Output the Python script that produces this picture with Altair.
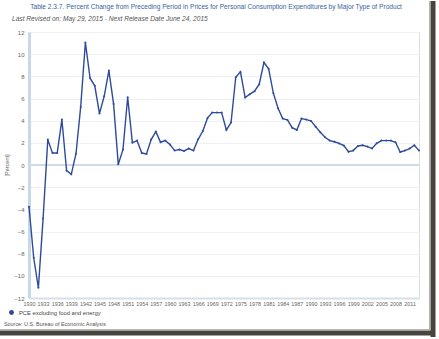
import altair as alt
import pandas as pd

# ---- data ----
years = [1930, 1931, 1932, 1933, 1934, 1935, 1936, 1937, 1938, 1939,
         1940, 1941, 1942, 1943, 1944, 1945, 1946, 1947, 1948, 1949,
         1950, 1951, 1952, 1953, 1954, 1955, 1956, 1957, 1958, 1959,
         1960, 1961, 1962, 1963, 1964, 1965, 1966, 1967, 1968, 1969,
         1970, 1971, 1972, 1973, 1974, 1975, 1976, 1977, 1978, 1979,
         1980, 1981, 1982, 1983, 1984, 1985, 1986, 1987, 1988, 1989,
         1990, 1991, 1992, 1993, 1994, 1995, 1996, 1997, 1998, 1999,
         2000, 2001, 2002, 2003, 2004, 2005, 2006, 2007, 2008, 2009,
         2010, 2011, 2012, 2013]
pce_core = [-3.77, -8.37, -11.08, -4.82, 2.29, 1.08, 1.08, 4.10, -0.51, -0.84,
            1.02, 5.24, 11.05, 7.83, 7.14, 4.64, 6.20, 8.52, 5.51, 0.06,
            1.39, 6.11, 2.02, 2.20, 1.08, 0.99, 2.29, 3.01, 2.05, 2.20,
            1.85, 1.30, 1.39, 1.27, 1.48, 1.30, 2.32, 3.07, 4.25, 4.73,
            4.73, 4.73, 3.16, 3.83, 7.92, 8.40, 6.08, 6.39, 6.66, 7.29,
            9.25, 8.67, 6.48, 5.12, 4.19, 4.07, 3.37, 3.16, 4.19, 4.10,
            3.98, 3.46, 2.95, 2.50, 2.20, 2.10, 1.95, 1.75, 1.20, 1.30,
            1.72, 1.78, 1.66, 1.50, 1.96, 2.20, 2.20, 2.20, 2.05, 1.17,
            1.30, 1.48, 1.78, 1.30]
series_name = "PCE excluding food and energy"
x_tick_labels = [1930, 1933, 1936, 1939, 1942, 1945, 1948, 1951, 1954, 1957,
                 1960, 1963, 1966, 1969, 1972, 1975, 1978, 1981, 1984, 1987,
                 1990, 1993, 1996, 1999, 2002, 2005, 2008, 2011]
y_tick_labels = [-12, -10, -8, -6, -4, -2, 0, 2, 4, 6, 8, 10, 12]
zero_line = [0]
title_text = ["Table 2.3.7. Percent Change from Preceding Period in Prices for "
              "Personal Consumption Expenditures by Major Type of Product"]
subtitle_text = ["Last Revised on: May 29, 2015 - Next Release Date June 24, 2015"]
source_text = ["Source: U.S. Bureau of Economic Analysis"]
y_title = "[Percent]"

LINE = "#2e4b9b"
FONT = "Liberation Sans"

df = pd.DataFrame({"year": years, "value": pce_core, "series": series_name})

x_scale = alt.Scale(domain=[years[0], years[-1]], nice=False, zero=False)
x_axis = alt.Axis(values=x_tick_labels, format="d", title=None, grid=False,
                  ticks=False, labelFontSize=5.4, labelColor="#666",
                  domainColor="#d6e0ea", domainWidth=2, labelPadding=3,
                  labelOverlap=False, labelFlush=False)
y_scale = alt.Scale(domain=[-12, 12], nice=False)
y_axis = alt.Axis(values=y_tick_labels, title=y_title, titleFontSize=5.5,
                  titleFontWeight="normal", titleColor="#666", titlePadding=4,
                  labelFontSize=6, labelColor="#666", ticks=False,
                  labelOverlap=False, labelFlush=False,
                  domainColor="#c9d8e6", domainWidth=3, gridColor="#eef1f4",
                  labelPadding=5)

x_enc = alt.X("year:Q", scale=x_scale, axis=x_axis)
y_enc = alt.Y("value:Q", scale=y_scale, axis=y_axis)

base = alt.Chart(df)

line = base.mark_line(color=LINE, strokeWidth=1.4).encode(x=x_enc, y=y_enc)
points = base.mark_point(filled=True, size=4, opacity=1).encode(
    x=x_enc, y=y_enc,
    color=alt.Color("series:N",
                    scale=alt.Scale(domain=[series_name], range=[LINE]),
                    legend=alt.Legend(title=None, orient="none", legendX=-21,
                                      legendY=277, symbolType="circle",
                                      symbolSize=24, labelFontSize=5.8,
                                      labelColor="#444", labelOffset=4,
                                      padding=0)),
)

zero_rule = alt.Chart(pd.DataFrame({"value": zero_line})).mark_rule(
    color="#d0dbe7", strokeWidth=2).encode(y=y_enc)

title = alt.Chart(pd.DataFrame({"t": title_text})).mark_text(
    font=FONT, fontSize=6.6, color="#3a5fa0", align="center", baseline="middle"
).encode(x=alt.value(187), y=alt.value(-25), text="t:N")
subtitle = alt.Chart(pd.DataFrame({"t": subtitle_text})).mark_text(
    font=FONT, fontSize=6.6, fontStyle="italic", color="#555", align="left",
    baseline="middle"
).encode(x=alt.value(-17), y=alt.value(-13), text="t:N")
source = alt.Chart(pd.DataFrame({"t": source_text})).mark_text(
    font=FONT, fontSize=5.4, color="#555", align="left", baseline="middle"
).encode(x=alt.value(-25), y=alt.value(292), text="t:N")

# picture-frame shadow (decoration)
frame_r1 = alt.Chart(pd.DataFrame({"k": [0]})).mark_rule(
    color="#47433f", strokeWidth=5).encode(
    x=alt.value(404), y=alt.value(-31), y2=alt.value(305))
frame_r2 = alt.Chart(pd.DataFrame({"k": [0]})).mark_rule(
    color="#b8b4ae", strokeWidth=1).encode(
    x=alt.value(400.5), y=alt.value(-31), y2=alt.value(297))
frame_b1 = alt.Chart(pd.DataFrame({"k": [0]})).mark_rule(
    color="#47433f", strokeWidth=5).encode(
    y=alt.value(301), x=alt.value(-29), x2=alt.value(406))
frame_b2 = alt.Chart(pd.DataFrame({"k": [0]})).mark_rule(
    color="#b8b4ae", strokeWidth=1).encode(
    y=alt.value(297.5), x=alt.value(-29), x2=alt.value(401))

chart = alt.layer(
    zero_rule, line, points, title, subtitle, source,
    frame_r2, frame_r1, frame_b2, frame_b1,
).properties(
    width=390, height=266,
    padding={"left": 29, "top": 32, "right": 20, "bottom": 41},
    autosize=alt.AutoSizeParams(type="none"),
    background="white",
).configure_view(stroke=None).configure(font=FONT)

chart.save("out.html", embed_options={"renderer": "svg", "actions": False})
